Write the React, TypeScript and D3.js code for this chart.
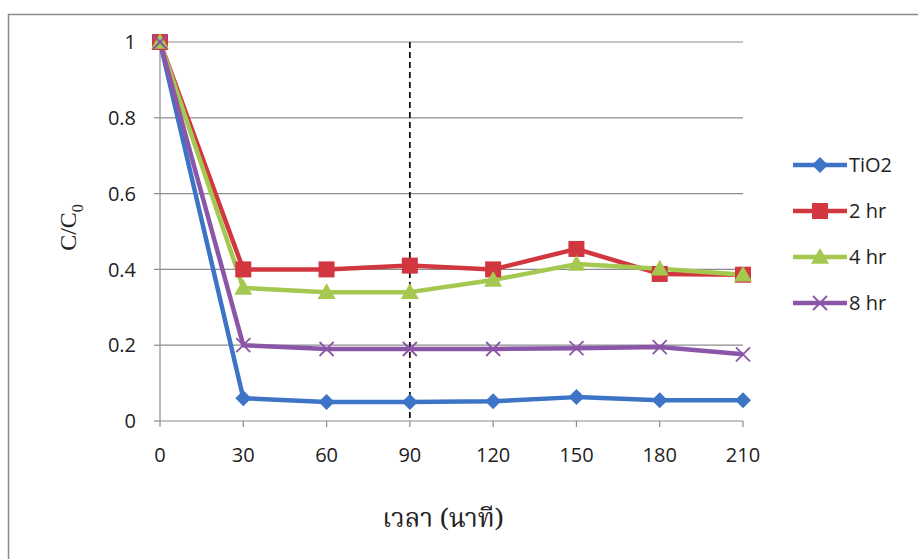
import React from "react";
import * as d3 from "d3";

const times = [0, 30, 60, 90, 120, 150, 180, 210];
const tio2 = [1, 0.06, 0.05, 0.05, 0.052, 0.063, 0.055, 0.055];
const hr2 = [1, 0.4, 0.4, 0.41, 0.4, 0.454, 0.388, 0.386];
const hr4 = [1, 0.351, 0.34, 0.34, 0.372, 0.414, 0.402, 0.386];
const hr8 = [1, 0.2, 0.19, 0.19, 0.19, 0.192, 0.195, 0.176];
const yTicks = [0, 0.2, 0.4, 0.6, 0.8, 1];
const seriesNames = ["TiO2", "2 hr", "4 hr", "8 hr"];
const markerLine = 90;

const colors = ["#3D74C6", "#D2373F", "#A4C850", "#8B55A8"];
const shapes = ["diamond", "square", "triangle", "cross"];

function Marker({ shape, x, y, color }: { shape: string; x: number; y: number; color: string }) {
  if (shape === "diamond") {
    const s = 8;
    return <path d={`M${x},${y - s}L${x + s},${y}L${x},${y + s}L${x - s},${y}Z`} fill={color} />;
  }
  if (shape === "square") {
    const s = 8;
    return <rect x={x - s} y={y - s} width={2 * s} height={2 * s} fill={color} />;
  }
  if (shape === "triangle") {
    const s = 9;
    return <path d={`M${x},${y - s}L${x + s},${y + s * 0.75}L${x - s},${y + s * 0.75}Z`} fill={color} />;
  }
  const s = 7;
  return (
    <path
      d={`M${x - s},${y - s}L${x + s},${y + s}M${x - s},${y + s}L${x + s},${y - s}`}
      stroke={color}
      strokeWidth={1.8}
      fill="none"
    />
  );
}

export default function App() {
  const W = 918, H = 559;
  const x = d3.scaleLinear().domain([0, 210]).range([160, 743]);
  const y = d3.scaleLinear().domain([0, 1]).range([421, 42]);
  const data = [tio2, hr2, hr4, hr8];
  const line = d3
    .line<number>()
    .x((_, i) => x(times[i]))
    .y((d) => y(d));
  const font = "'Open Sans', 'Liberation Sans', sans-serif";
  const fs = 20;
  const legendY = [165, 211, 257, 303];

  return (
    <svg
      width={W}
      height={H}
      style={{ position: "absolute", left: 0, top: 0, display: "block", background: "#fff" }}
    >
      <rect x={8.5} y={14.5} width={W} height={H} fill="none" stroke="#8a8a8a" strokeWidth={1.5} />
      {yTicks.map((t) => (
        <g key={t}>
          {t > 0 && <line x1={160} x2={743} y1={y(t)} y2={y(t)} stroke="#8c8c8c" strokeWidth={1.2} />}
          <line x1={154} x2={160} y1={y(t)} y2={y(t)} stroke="#8c8c8c" strokeWidth={1.2} />
          <text x={136} y={y(t)} dy="0.36em" textAnchor="end" fontSize={fs} fontFamily={font} fill="#222">
            {t === 0 || t === 1 ? String(t) : t.toFixed(1)}
          </text>
        </g>
      ))}
      <line x1={160} x2={160} y1={y(1)} y2={y(0)} stroke="#8c8c8c" strokeWidth={1.2} />
      <line x1={160} x2={743} y1={y(0)} y2={y(0)} stroke="#8c8c8c" strokeWidth={1.2} />
      {times.map((t) => (
        <g key={t}>
          <line x1={x(t)} x2={x(t)} y1={y(0)} y2={y(0) + 6} stroke="#8c8c8c" strokeWidth={1.2} />
          <text x={x(t)} y={455} dy="0.36em" textAnchor="middle" fontSize={fs} fontFamily={font} fill="#222">
            {t}
          </text>
        </g>
      ))}
      <line
        x1={x(markerLine)}
        x2={x(markerLine)}
        y1={y(1)}
        y2={y(0)}
        stroke="#111"
        strokeWidth={1.8}
        strokeDasharray="6,4"
      />
      {data.map((d, si) => (
        <g key={si}>
          <path d={line(d) || ""} fill="none" stroke={colors[si]} strokeWidth={4.5} strokeLinejoin="round" />
        </g>
      ))}
      {data.map((d, si) => (
        <g key={"m" + si}>
          {d.map((v, i) => (
            <Marker key={i} shape={shapes[si]} x={x(times[i])} y={y(v)} color={colors[si]} />
          ))}
        </g>
      ))}
      {seriesNames.map((n, i) => (
        <g key={n}>
          <line x1={793} x2={847} y1={legendY[i]} y2={legendY[i]} stroke={colors[i]} strokeWidth={4.5} />
          <Marker shape={shapes[i]} x={820} y={legendY[i]} color={colors[i]} />
          <text x={849} y={legendY[i]} dy="0.36em" fontSize={fs} fontFamily={font} fill="#222">
            {n}
          </text>
        </g>
      ))}
      <text
        transform={`translate(68,${y(0.5) - 4}) rotate(-90)`}
        textAnchor="middle"
        fontSize={24}
        fontFamily="'Liberation Serif', 'DejaVu Serif', serif"
        fill="#222"
        dy="0.35em"
      >
        C/C<tspan fontSize={16} dy="7">0</tspan>
      </text>
      <text
        x={443}
        y={518}
        textAnchor="middle"
        dy="0.35em"
        fontSize={26}
        fontFamily="'Noto Serif Thai', 'Noto Sans Thai', 'Noto Sans', 'DejaVu Sans', sans-serif"
        fill="#222"
      >
        เวลา (นาที)
      </text>
    </svg>
  );
}
